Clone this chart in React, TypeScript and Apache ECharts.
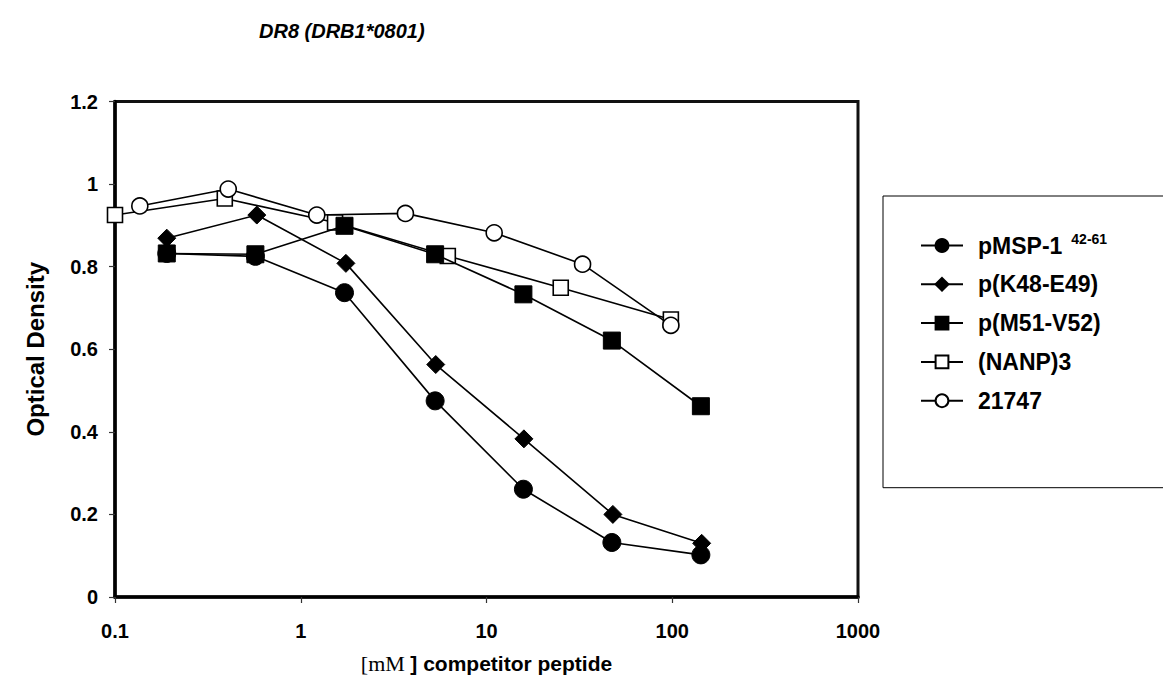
import React, { useEffect, useRef } from "react";
import * as echarts from "echarts";

// Competitor peptide concentration (mM) and optical density readings
const mspX = [0.19, 0.57, 1.72, 5.29, 15.8, 47.3, 142.6];
const mspY = [0.832, 0.825, 0.737, 0.475, 0.261, 0.132, 0.102];

const k48X = [0.19, 0.58, 1.75, 5.33, 15.9, 47.9, 144];
const k48Y = [0.869, 0.925, 0.808, 0.563, 0.383, 0.2, 0.13];

const m51X = [0.19, 0.57, 1.72, 5.29, 15.8, 47.3, 142.6];
const m51Y = [0.832, 0.83, 0.899, 0.83, 0.733, 0.621, 0.462];

const nanpX = [0.1, 0.39, 1.53, 6.19, 25.1, 98.3];
const nanpY = [0.925, 0.965, 0.907, 0.826, 0.749, 0.672];

const p21747X = [0.136, 0.407, 1.22, 3.66, 11.0, 32.9, 98.3];
const p21747Y = [0.947, 0.988, 0.925, 0.929, 0.882, 0.806, 0.658];

const seriesNames = ["pMSP-1", "p(K48-E49)", "p(M51-V52)", "(NANP)3", "21747"];
const xTickLabels: Record<string, string> = {
  "0.1": "0.1",
  "1": "1",
  "10": "10",
  "100": "100",
  "1000": "1000",
};

const SANS = '"Liberation Sans", Arial, Helvetica, sans-serif';
const SERIF = '"Liberation Serif", "Times New Roman", serif';

const pair = (xs: number[], ys: number[]) => xs.map((x, i) => [x, ys[i]]);

export default function App() {
  const ref = useRef<HTMLDivElement>(null);

  useEffect(() => {
    if (!ref.current) return;
    const chart = echarts.init(ref.current, null, { renderer: "svg" });

    const filled = { color: "#000", borderColor: "#000", borderWidth: 1 };
    const open = { color: "#fff", borderColor: "#000", borderWidth: 1.6 };
    const line = { color: "#000", width: 1.6 };

    chart.setOption({
      animation: false,
      backgroundColor: "#fff",
      title: {
        text: "DR8 (DRB1*0801)",
        left: 254,
        top: 16,
        textStyle: {
          fontFamily: SANS,
          fontSize: 20,
          fontWeight: "bold",
          fontStyle: "italic",
          color: "#000",
        },
      },
      legend: {
        orient: "vertical",
        left: 883,
        top: 196,
        data: seriesNames,
        backgroundColor: "#fff",
        borderColor: "#000",
        borderWidth: 1,
        padding: [36, 120, 75, 37],
        itemWidth: 42,
        itemHeight: 16,
        itemGap: 14.8,
        icon: "inherit",
        textStyle: {
          fontFamily: SANS,
          fontSize: 23,
          fontWeight: "bold",
          color: "#000",
          lineHeight: 24,
          padding: [0, 0, 0, 10],
          rich: {
            b: {
              fontFamily: SANS,
              fontSize: 23,
              fontWeight: "bold",
              color: "#000",
            },
            sup: {
              fontFamily: SANS,
              fontSize: 14,
              fontWeight: "bold",
              color: "#000",
              padding: [0, 0, 13, 9],
            },
          },
        },
        formatter: (name: string) =>
          name === "pMSP-1" ? "{b|pMSP-1}{sup|42-61}" : name,
      },
      grid: {
        left: 115,
        right: 305,
        top: 101.5,
        bottom: 86,
        show: true,
        borderColor: "#111",
        borderWidth: 3,
        backgroundColor: "#fff",
      },
      xAxis: {
        type: "log",
        logBase: 10,
        min: 0.1,
        max: 1000,
        name: "{s|[mM }{b|] competitor peptide}",
        nameLocation: "middle",
        nameGap: 55,
        nameTextStyle: {
          rich: {
            s: { fontFamily: SERIF, fontSize: 22, fontWeight: "normal", color: "#000" },
            b: { fontFamily: SANS, fontSize: 21, fontWeight: "bold", color: "#000" },
          },
        },
        axisLine: { show: true, onZero: false, lineStyle: { color: "#000", width: 3.5 } },
        axisTick: { show: true, inside: false, length: 6, lineStyle: { color: "#333", width: 1.2 } },
        minorTick: { show: false },
        splitLine: { show: false },
        axisLabel: {
          margin: 24,
          fontFamily: SANS,
          fontSize: 20,
          fontWeight: "bold",
          color: "#000",
          formatter: (v: number) => {
            const k = String(Math.round(v * 10) / 10);
            return xTickLabels[k] ?? k;
          },
        },
      },
      yAxis: {
        type: "value",
        min: 0,
        max: 1.2,
        interval: 0.2,
        name: "Optical Density",
        nameLocation: "middle",
        nameGap: 68,
        nameTextStyle: {
          fontFamily: SANS,
          fontSize: 24,
          fontWeight: "bold",
          color: "#000",
        },
        axisLine: { show: true, lineStyle: { color: "#000", width: 3.5 } },
        axisTick: { show: true, inside: false, length: 6, lineStyle: { color: "#333", width: 1.2 } },
        splitLine: { show: false },
        axisLabel: {
          margin: 17,
          fontFamily: SANS,
          fontSize: 20,
          fontWeight: "bold",
          color: "#000",
          formatter: (v: number) => String(Math.round(v * 10) / 10),
        },
      },
      series: [
        {
          name: "pMSP-1",
          type: "line",
          data: pair(mspX, mspY),
          symbol: "circle",
          symbolSize: 18,
          itemStyle: filled,
          lineStyle: line,
          z: 3,
        },
        {
          name: "p(K48-E49)",
          type: "line",
          data: pair(k48X, k48Y),
          symbol: "diamond",
          symbolSize: 18,
          itemStyle: filled,
          lineStyle: line,
          z: 3,
        },
        {
          name: "p(M51-V52)",
          type: "line",
          data: pair(m51X, m51Y),
          symbol: "rect",
          symbolSize: 17,
          itemStyle: filled,
          lineStyle: line,
          z: 4,
        },
        {
          name: "(NANP)3",
          type: "line",
          data: pair(nanpX, nanpY),
          symbol: "rect",
          symbolSize: 15,
          itemStyle: open,
          lineStyle: line,
          z: 2,
        },
        {
          name: "21747",
          type: "line",
          data: pair(p21747X, p21747Y),
          symbol: "circle",
          symbolSize: 16,
          itemStyle: open,
          lineStyle: line,
          z: 2,
        },
      ],
    });

    return () => chart.dispose();
  }, []);

  return (
    <div
      ref={ref}
      style={{ position: "absolute", left: 0, top: 0, width: 1163, height: 683 }}
    />
  );
}
